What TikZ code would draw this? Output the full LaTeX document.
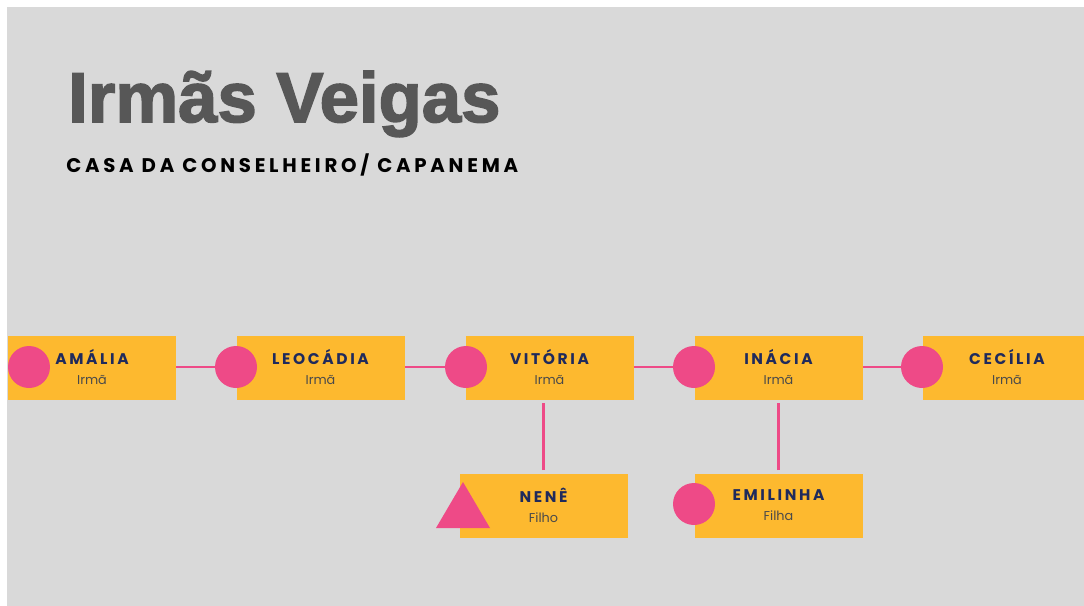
\documentclass[tikz,border=0pt]{standalone}
\usepackage{fontspec}
\setmainfont{Poppins}
\newfontfamily\titlefont{Liberation Sans}[FakeBold=2.2]
\newfontfamily\namefont{Poppins}[LetterSpace=17]
\newfontfamily\subtfont{Poppins}[LetterSpace=19]
\definecolor{bg}{HTML}{D9D9D9}
\definecolor{boxc}{HTML}{FDB92F}
\definecolor{pinkc}{HTML}{EE4A87}
\definecolor{navy}{HTML}{1F2A5C}
\definecolor{titlec}{HTML}{575757}
\definecolor{subc}{HTML}{4A4A4A}
\tikzset{
  box/.style={fill=boxc, minimum width=126pt, minimum height=48pt, inner sep=0pt, align=center},
  dot/.style={circle, fill=pinkc, minimum size=31.5pt, inner sep=0pt},
  link/.style={draw=pinkc, line width=2.2pt},
}
\newcommand{\nm}[2]{{\namefont\bfseries\fontsize{11.6}{12}\selectfont\color{navy}#1}\\[3pt]{\fontsize{9.6}{10}\selectfont\color{subc}#2}}
\begin{document}
\begin{tikzpicture}[x=0.75pt,y=-0.75pt]
\useasboundingbox (0,0) rectangle (1084,606);
\fill[white] (0,0) rectangle (1084,606);
\fill[bg] (7,7) rectangle (1084,606);
\node[anchor=base west, inner sep=0pt, text=titlec] (title) at (68,122) {\titlefont\bfseries\fontsize{53}{60}\selectfont Irmãs Veigas};
\node[anchor=base west, inner sep=0pt] (subtitle) at (66,172) {\subtfont\bfseries\fontsize{14.8}{16}\selectfont CASA DA CONSELHEIRO/ CAPANEMA};
% row 1
\node[box] (amalia) at (92,367.5) {\nm{AMÁLIA}{Irmã}};
\node[box] (leocadia) at (320.5,367.5) {\nm{LEOCÁDIA}{Irmã}};
\node[box] (vitoria) at (549.5,367.5) {\nm{VITÓRIA}{Irmã}};
\node[box] (inacia) at (778.5,367.5) {\nm{INÁCIA}{Irmã}};
\node[box] (cecilia) at (1007,367.5) {\nm{CECÍLIA}{Irmã}};
% row 2
\node[box] (nene) at (543.5,505.5) {\nm{NENÊ}{Filho}};
\node[box] (emilinha) at (778.5,505.5) {\nm{EMILINHA}{Filha}};
% markers
\node[dot] (d1) at (29,367) {};
\node[dot] (d2) at (236,367) {};
\node[dot] (d3) at (466,367) {};
\node[dot] (d4) at (694,367) {};
\node[dot] (d5) at (922,367) {};
\node[dot] (d6) at (694,504) {};
\fill[pinkc] (436,528) coordinate (t1) -- (490,528) coordinate (t2) -- (463,482) coordinate (t3) -- cycle;
% connectors
\draw[link] (d2.west -| amalia.east) -- (d2.west);
\draw[link] (d3.west -| leocadia.east) -- (d3.west);
\draw[link] (d4.west -| vitoria.east) -- (d4.west);
\draw[link] (d5.west -| inacia.east) -- (d5.west);
\draw[link, shorten <=2.25pt, shorten >=2.25pt] (nene.north) -- (nene.north |- vitoria.south);
\draw[link, shorten <=2.25pt, shorten >=2.25pt] (emilinha.north) -- (emilinha.north |- inacia.south);
\end{tikzpicture}
\end{document}
